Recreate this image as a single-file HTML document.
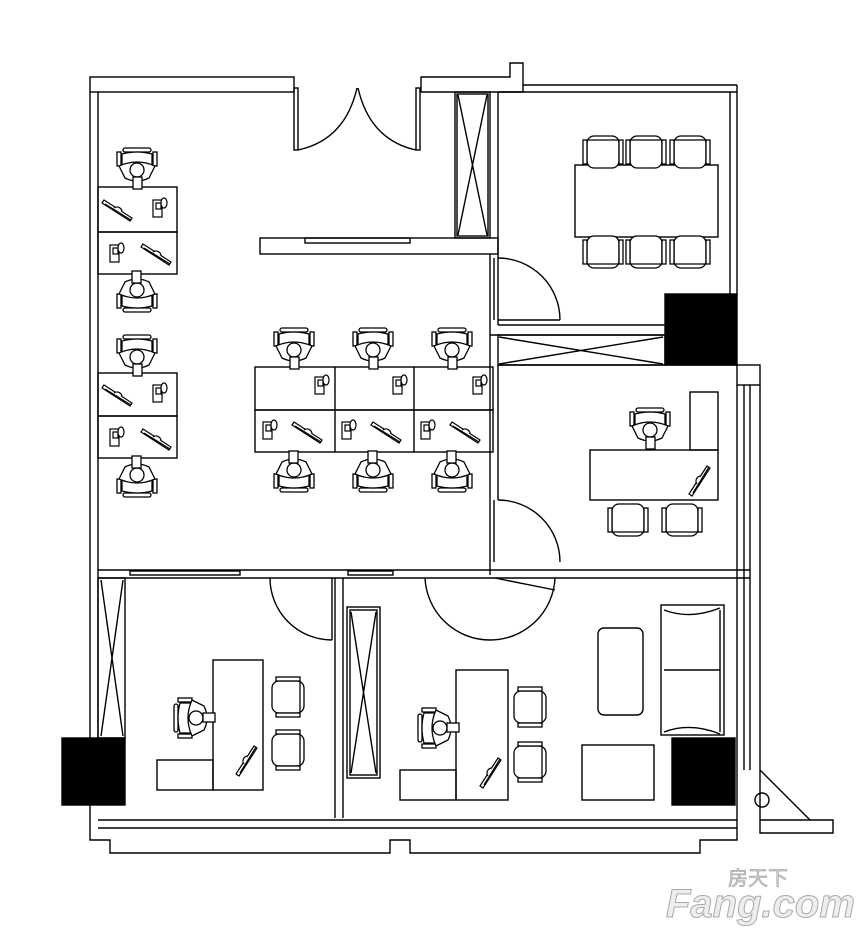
<!DOCTYPE html>
<html><head><meta charset="utf-8"><style>
html,body{margin:0;padding:0;background:#fff;}
svg{display:block;}
.wm{font-family:"Liberation Sans","Noto Sans CJK SC",sans-serif;}
</style></head><body>
<svg width="866" height="936" viewBox="0 0 866 936" xmlns="http://www.w3.org/2000/svg">
<defs>
<g id="chair" fill="#fff" stroke="#000" stroke-width="1.3">
<rect x="-14" y="-2" width="28" height="4" rx="2"/>
<rect x="-20" y="2" width="4" height="14"/>
<rect x="16" y="2" width="4" height="14"/>
<path d="M-15 4 Q0 0 15 4 L15 18 L-15 18 Z"/>
<path d="M-18 16 Q0 8 18 16 L12 28 Q0 34 -12 28 Z"/>
<circle cx="0" cy="20" r="7"/>
<rect x="-4" y="27" width="9" height="12"/>
</g>
<g id="vchair" fill="#fff" stroke="#000" stroke-width="1.3">
<rect x="-16" y="-16" width="32" height="32" rx="7"/>
<rect x="-20" y="-12" width="4" height="24"/>
<rect x="16" y="-12" width="4" height="24"/>
<line x1="-15" y1="12" x2="15" y2="12"/>
</g>
<g id="pc" fill="#fff" stroke="#000" stroke-width="1.2">
<path d="M-14 -8 L14 10 L12 13 L-16 -5 Z"/>
<line x1="-13" y1="-4" x2="13" y2="12"/>
<path d="M-4 0 A5 5 0 0 1 4 4"/>
</g>
<g id="ph" fill="#fff" stroke="#000" stroke-width="1.2">
<rect x="-5" y="-8" width="9" height="17"/>
<rect x="-2" y="-5" width="5" height="6"/>
<ellipse cx="6" cy="-5" rx="3" ry="5"/>
</g>
</defs>
<g fill="none" stroke="#000" stroke-width="1.4">
<rect x="90" y="77" width="204" height="15"/>
<path d="M421 77 L510 77 L510 63 L523 63 L523 77 L523 92 L421 92 Z"/>
<line x1="498" y1="92" x2="737" y2="92"/>
<line x1="523" y1="85" x2="737" y2="85"/>
<line x1="730" y1="92" x2="730" y2="295"/>
<line x1="737" y1="85" x2="737" y2="295"/>
<line x1="90" y1="92" x2="90" y2="740"/>
<line x1="98" y1="92" x2="98" y2="738"/>
<rect x="294" y="88" width="4" height="62"/>
<rect x="416" y="88" width="4" height="62"/>
<path d="M298 150 Q345 140 357 88"/>
<path d="M416 150 Q370 140 358 88"/>
<rect x="455" y="92" width="35" height="146"/>
<rect x="457" y="94" width="31" height="142"/>
<path d="M458 95 L487 235 M487 95 L458 235"/>
<rect x="260" y="238" width="238" height="16"/>
<rect x="305" y="238" width="105" height="5"/>
<line x1="490" y1="254" x2="490" y2="575"/>
<line x1="498" y1="92" x2="498" y2="325"/>
<line x1="494" y1="258" x2="494" y2="320"/>
<path d="M498 258 A62 62 0 0 1 560 320"/>
<line x1="498" y1="320" x2="560" y2="320"/>
<line x1="498" y1="325" x2="665" y2="325"/>
<line x1="490" y1="335" x2="665" y2="335"/>
<rect x="498" y="335" width="167" height="30"/>
<path d="M499 337 L663 364 M499 364 L663 337"/>
<rect x="665" y="294" width="72" height="71" fill="#000"/>
<rect x="575" y="165" width="143" height="72"/>
<line x1="498" y1="365" x2="737" y2="365"/>
<rect x="737" y="365" width="23" height="20"/>
<line x1="737" y1="385" x2="737" y2="820"/>
<line x1="744" y1="385" x2="744" y2="770"/>
<line x1="750" y1="385" x2="750" y2="770"/>
<line x1="760" y1="385" x2="760" y2="770"/>
<line x1="498" y1="365" x2="498" y2="500"/>
<path d="M498 500 A62 62 0 0 1 560 562"/>
<line x1="494" y1="500" x2="494" y2="562"/>
<rect x="690" y="392" width="28" height="58"/>
<rect x="590" y="450" width="128" height="50"/>
<line x1="98" y1="570" x2="750" y2="570"/>
<line x1="98" y1="578" x2="750" y2="578"/>
<rect x="130" y="571" width="110" height="4"/>
<rect x="348" y="571" width="45" height="4"/>
<path d="M270 578 A62 62 0 0 0 332 640"/>
<line x1="332" y1="578" x2="332" y2="640"/>
<path d="M425 578 A65 65 0 0 0 490 640 A65 65 0 0 0 555 578"/>
<path d="M495 578 L555 590"/>
<line x1="335" y1="578" x2="335" y2="818"/>
<line x1="343" y1="578" x2="343" y2="818"/>
<rect x="98" y="578" width="27" height="160"/>
<path d="M101 580 L123 736 M123 580 L101 736"/>
<rect x="347" y="607" width="33" height="171"/>
<rect x="350" y="610" width="27" height="165"/>
<path d="M351 612 L376 773 M376 612 L351 773"/>
<rect x="62" y="738" width="63" height="67" fill="#000"/>
<rect x="672" y="738" width="63" height="67" fill="#000"/>
<rect x="213" y="660" width="50" height="130"/>
<rect x="157" y="760" width="56" height="30"/>
<rect x="456" y="670" width="52" height="130"/>
<rect x="400" y="770" width="56" height="30"/>
<rect x="598" y="628" width="45" height="87" rx="6"/>
<rect x="661" y="605" width="63" height="130"/>
<path d="M664 610 Q690 620 720 608 M664 670 L720 670 M664 732 Q690 722 720 734 M720 610 L720 732"/>
<rect x="582" y="745" width="72" height="55"/>
<circle cx="762" cy="800" r="7"/>
<line x1="98" y1="820" x2="737" y2="820"/>
<line x1="98" y1="828" x2="737" y2="828"/>
<path d="M90 805 L90 840 L110 840 L110 853 L390 853 L390 840 L410 840 L410 853 L700 853 L700 840 L737 840 L737 820"/>
<path d="M760 770 L760 820 L833 820 L833 833 L760 833 L760 820"/>
<line x1="760" y1="770" x2="810" y2="820"/>
<rect x="98" y="187" width="79" height="45"/>
<rect x="98" y="232" width="79" height="42"/>
<rect x="98" y="373" width="79" height="43"/>
<rect x="98" y="416" width="79" height="42"/>
<rect x="255" y="367" width="238" height="43"/>
<rect x="255" y="410" width="238" height="42"/>
<line x1="335" y1="367" x2="335" y2="452"/>
<line x1="414" y1="367" x2="414" y2="452"/>
</g>
<use href="#chair" transform="translate(137,150)"/>
<use href="#chair" transform="translate(137,310) rotate(180)"/>
<use href="#chair" transform="translate(137,337)"/>
<use href="#chair" transform="translate(137,495) rotate(180)"/>
<use href="#chair" transform="translate(294,330)"/>
<use href="#chair" transform="translate(373,330)"/>
<use href="#chair" transform="translate(452,330)"/>
<use href="#chair" transform="translate(294,490) rotate(180)"/>
<use href="#chair" transform="translate(373,490) rotate(180)"/>
<use href="#chair" transform="translate(452,490) rotate(180)"/>
<use href="#chair" transform="translate(650,410)"/>
<use href="#chair" transform="translate(176,718) rotate(-90)"/>
<use href="#chair" transform="translate(420,728) rotate(-90)"/>
<use href="#pc" transform="translate(118,208)"/><use href="#ph" transform="translate(158,208)"/>
<use href="#pc" transform="translate(157,252)"/><use href="#ph" transform="translate(115,253)"/>
<use href="#pc" transform="translate(118,393)"/><use href="#ph" transform="translate(158,393)"/>
<use href="#pc" transform="translate(157,437)"/><use href="#ph" transform="translate(115,437)"/>
<use href="#pc" transform="translate(308,430)"/><use href="#ph" transform="translate(268,430)"/>
<use href="#pc" transform="translate(387,430)"/><use href="#ph" transform="translate(347,430)"/>
<use href="#pc" transform="translate(466,430)"/><use href="#ph" transform="translate(426,430)"/>
<use href="#ph" transform="translate(320,385)"/><use href="#ph" transform="translate(398,385)"/><use href="#ph" transform="translate(478,385)"/>
<use href="#pc" transform="translate(697,480) rotate(-90)"/>
<use href="#pc" transform="translate(244,760) rotate(-90)"/>
<use href="#pc" transform="translate(488,772) rotate(-90)"/>
<use href="#vchair" transform="translate(603,152) rotate(180)"/>
<use href="#vchair" transform="translate(646,152) rotate(180)"/>
<use href="#vchair" transform="translate(690,152) rotate(180)"/>
<use href="#vchair" transform="translate(603,252)"/>
<use href="#vchair" transform="translate(646,252)"/>
<use href="#vchair" transform="translate(690,252)"/>
<use href="#vchair" transform="translate(628,520)"/>
<use href="#vchair" transform="translate(682,520)"/>
<use href="#vchair" transform="translate(288,697) rotate(-90)"/>
<use href="#vchair" transform="translate(288,750) rotate(-90)"/>
<use href="#vchair" transform="translate(530,707) rotate(-90)"/>
<use href="#vchair" transform="translate(530,762) rotate(-90)"/>
<g class="wm">
<text x="728" y="885" font-size="20" fill="#ccc" stroke="#999" stroke-width="0.5">房天下</text>
<text x="666" y="917" font-size="40" font-weight="bold" fill="#eee" stroke="#aaa" stroke-width="1" font-style="italic">Fang.com</text>
</g>
</svg>
</body></html>
